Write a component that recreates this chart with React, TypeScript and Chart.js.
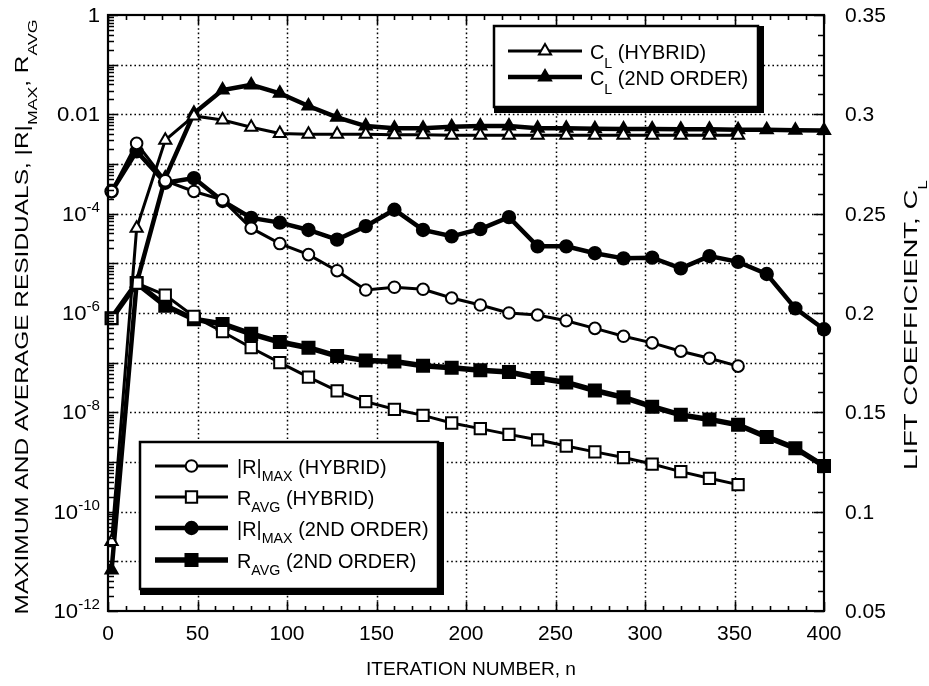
import { useEffect, useRef } from 'react';
import { Chart, registerables } from 'chart.js';

Chart.register(...registerables);

// ---------------- data ----------------
const iterations = [2, 16, 32, 48, 64, 80, 96, 112, 128, 144, 160, 176, 192, 208, 224, 240, 256, 272, 288, 304, 320, 336, 352, 368, 384, 400];

const rmaxHybrid = [2.8e-4, 2.6e-3, 4.6e-4, 2.8e-4, 1.9e-4, 5.1e-5, 2.5e-5, 1.5e-5, 7.1e-6, 2.9e-6, 3.3e-6, 3.0e-6, 2.0e-6, 1.45e-6, 1.0e-6, 9.1e-7, 7.0e-7, 4.9e-7, 3.4e-7, 2.5e-7, 1.7e-7, 1.23e-7, 8.5e-8];
const ravgHybrid = [7.8e-7, 4.0e-6, 2.3e-6, 8.5e-7, 4.2e-7, 2.0e-7, 1.0e-7, 5.1e-8, 2.7e-8, 1.64e-8, 1.15e-8, 8.7e-9, 6.1e-9, 4.7e-9, 3.6e-9, 2.8e-9, 2.1e-9, 1.6e-9, 1.23e-9, 9.1e-10, 6.4e-10, 4.7e-10, 3.5e-10];
const rmax2nd = [2.8e-4, 1.8e-3, 4.2e-4, 5.2e-4, 1.8e-4, 8.2e-5, 6.6e-5, 4.7e-5, 3.0e-5, 5.6e-5, 1.2e-4, 4.7e-5, 3.5e-5, 4.9e-5, 8.5e-5, 2.2e-5, 2.2e-5, 1.6e-5, 1.26e-5, 1.3e-5, 7.9e-6, 1.4e-5, 1.07e-5, 6.1e-6, 1.24e-6, 4.7e-7];
const ravg2nd = [7.8e-7, 4.0e-6, 1.4e-6, 7.5e-7, 6.0e-7, 3.8e-7, 2.6e-7, 2.0e-7, 1.36e-7, 1.1e-7, 1.05e-7, 8.7e-8, 7.9e-8, 7.0e-8, 6.5e-8, 4.9e-8, 4.0e-8, 2.75e-8, 2.0e-8, 1.3e-8, 8.9e-9, 7.2e-9, 5.6e-9, 3.2e-9, 1.9e-9, 8.3e-10];
const clHybrid = [0.085, 0.2426, 0.287, 0.2992, 0.2971, 0.2935, 0.2904, 0.29, 0.29, 0.29, 0.2897, 0.2897, 0.2895, 0.2895, 0.2895, 0.2895, 0.2895, 0.2895, 0.2895, 0.2895, 0.2895, 0.2895, 0.2895];
const cl2nd = [0.0706, 0.215, 0.268, 0.3005, 0.3122, 0.3148, 0.3106, 0.3042, 0.2985, 0.2941, 0.293, 0.293, 0.2938, 0.2941, 0.2941, 0.293, 0.293, 0.2928, 0.2926, 0.2926, 0.2925, 0.2925, 0.2922, 0.2922, 0.292, 0.2918];

const xTickValues = [0, 50, 100, 150, 200, 250, 300, 350, 400];
const xGridValues = [50, 100, 150, 200, 250, 300, 350];
const leftTickValues = [1, 1e-2, 1e-4, 1e-6, 1e-8, 1e-10, 1e-12];
const leftTickBase = ['1', '0.01', '10', '10', '10', '10', '10'];
const leftTickExp = ['', '', '-4', '-6', '-8', '-10', '-12'];
const rightTickValues = [0.05, 0.1, 0.15, 0.2, 0.25, 0.3, 0.35];
const rightTickLabels = ['0.05', '0.1', '0.15', '0.2', '0.25', '0.3', '0.35'];

// ---------------- helpers ----------------
const FAMILY = '"Liberation Sans", Arial, Helvetica, sans-serif';

type Part = { t: string; sub?: boolean; sup?: boolean };
type RichOpts = {
  size: number;
  small?: number;
  subDy?: number;
  supDy?: number;
  align?: 'left' | 'right' | 'center';
  sx?: number;
  target?: number;
  rotate?: boolean;
};

function partsWidth(ctx: CanvasRenderingContext2D, parts: Part[], size: number, small: number) {
  let w = 0;
  for (const p of parts) {
    ctx.font = `${p.sub || p.sup ? small : size}px ${FAMILY}`;
    w += ctx.measureText(p.t).width;
  }
  return w;
}

function drawRich(ctx: CanvasRenderingContext2D, parts: Part[], x: number, y: number, o: RichOpts) {
  const small = o.small ?? Math.round(o.size * 0.7);
  const W = partsWidth(ctx, parts, o.size, small);
  let sx = o.sx ?? 1;
  if (o.target) sx = o.target / W;
  ctx.save();
  ctx.translate(x, y);
  if (o.rotate) ctx.rotate(-Math.PI / 2);
  ctx.scale(sx, 1);
  ctx.fillStyle = '#000';
  ctx.textBaseline = 'alphabetic';
  ctx.textAlign = 'left';
  const align = o.align ?? 'left';
  let cx = align === 'left' ? 0 : align === 'right' ? -W : -W / 2;
  for (const p of parts) {
    const sz = p.sub || p.sup ? small : o.size;
    ctx.font = `${sz}px ${FAMILY}`;
    const dy = p.sub ? o.subDy ?? 7 : p.sup ? o.supDy ?? -9 : 0;
    ctx.fillText(p.t, cx, dy);
    cx += ctx.measureText(p.t).width;
  }
  ctx.restore();
}

function drawMarker(ctx: CanvasRenderingContext2D, style: string, x: number, y: number, r: number, filled: boolean) {
  ctx.beginPath();
  if (style === 'circle') {
    ctx.arc(x, y, r, 0, Math.PI * 2);
  } else if (style === 'rect') {
    const s = r * Math.SQRT1_2;
    ctx.rect(x - s, y - s, 2 * s, 2 * s);
  } else {
    for (let i = 0; i < 3; i++) {
      const a = (i * 2 * Math.PI) / 3;
      const px = x + Math.sin(a) * r;
      const py = y - Math.cos(a) * r;
      if (i === 0) ctx.moveTo(px, py);
      else ctx.lineTo(px, py);
    }
    ctx.closePath();
  }
  ctx.fillStyle = filled ? '#000' : '#fff';
  ctx.fill();
  ctx.lineWidth = 2;
  ctx.strokeStyle = '#000';
  ctx.stroke();
}

type LegendItem = { parts: Part[]; style: string; filled: boolean; r: number; lw: number };

function drawLegend(
  ctx: CanvasRenderingContext2D,
  box: { x: number; y: number; w: number; h: number },
  items: LegendItem[],
  rows: number[],
  lineX0: number,
  lineX1: number,
  textX: number,
  subDy: number
) {
  ctx.save();
  const sh = 6;
  ctx.fillStyle = '#000';
  ctx.fillRect(box.x, box.y, box.w + sh, box.h + sh);
  ctx.fillStyle = '#fff';
  ctx.fillRect(box.x, box.y, box.w, box.h);
  ctx.strokeStyle = '#000';
  ctx.lineWidth = 2.5;
  ctx.setLineDash([]);
  ctx.strokeRect(box.x, box.y, box.w, box.h);
  items.forEach((it, i) => {
    const y = rows[i];
    ctx.beginPath();
    ctx.lineWidth = it.lw;
    ctx.moveTo(lineX0, y);
    ctx.lineTo(lineX1, y);
    ctx.stroke();
    drawMarker(ctx, it.style, (lineX0 + lineX1) / 2, y, it.r, it.filled);
    drawRich(ctx, it.parts, textX, y + 7.5, { size: 19.5, small: 14, subDy, sx: 1.02 });
  });
  ctx.restore();
}

const decorPlugin = {
  id: 'decor',
  beforeDatasetsDraw(chart: any) {
    const { ctx, chartArea: a, scales } = chart;
    const xs = scales.x;
    const yl = scales.yL;
    ctx.save();
    ctx.strokeStyle = '#000';
    ctx.lineWidth = 1.5;
    ctx.setLineDash([1.6, 2.8]);
    ctx.beginPath();
    for (const v of xGridValues) {
      const px = Math.round(xs.getPixelForValue(v)) + 0.5;
      ctx.moveTo(px, a.top);
      ctx.lineTo(px, a.bottom);
    }
    for (let e = -1; e >= -11; e--) {
      const py = Math.round(yl.getPixelForValue(Math.pow(10, e))) + 0.5;
      ctx.moveTo(a.left, py);
      ctx.lineTo(a.right, py);
    }
    ctx.stroke();
    ctx.restore();
  },
  afterDatasetsDraw(chart: any) {
    const { ctx, chartArea: a, scales } = chart;
    const xs = scales.x;
    const yl = scales.yL;
    const yr = scales.yR;
    ctx.save();
    ctx.setLineDash([]);
    ctx.strokeStyle = '#000';
    // ticks
    ctx.lineWidth = 1.6;
    ctx.beginPath();
    for (let v = 0; v <= 400; v += 10) {
      const px = Math.round(xs.getPixelForValue(v)) + 0.5;
      const len = v % 50 === 0 ? 9 : 5;
      ctx.moveTo(px, a.bottom);
      ctx.lineTo(px, a.bottom - len);
      ctx.moveTo(px, a.top);
      ctx.lineTo(px, a.top + len);
    }
    for (let e = -12; e <= 0; e++) {
      const base = Math.pow(10, e);
      const py0 = Math.round(yl.getPixelForValue(base)) + 0.5;
      ctx.moveTo(a.left, py0);
      ctx.lineTo(a.left + 10, py0);
      if (e < 0) {
        for (let m = 2; m <= 9; m++) {
          const py = Math.round(yl.getPixelForValue(m * base)) + 0.5;
          ctx.moveTo(a.left, py);
          ctx.lineTo(a.left + 6, py);
        }
      }
    }
    for (let i = 5; i <= 35; i++) {
      const py = Math.round(yr.getPixelForValue(i / 100)) + 0.5;
      const len = i % 5 === 0 ? 10 : 6;
      ctx.moveTo(a.right, py);
      ctx.lineTo(a.right - len, py);
    }
    ctx.stroke();
    // frame
    ctx.lineWidth = 2.2;
    ctx.strokeRect(a.left, a.top, a.right - a.left, a.bottom - a.top);
    ctx.restore();

    // tick labels
    xTickValues.forEach((v) => {
      drawRich(ctx, [{ t: String(v) }], xs.getPixelForValue(v), 640, { size: 20, align: 'center', sx: 1.05 });
    });
    rightTickValues.forEach((v, i) => {
      drawRich(ctx, [{ t: rightTickLabels[i] }], 845, yr.getPixelForValue(v) + 7, { size: 20, align: 'left', sx: 1.05 });
    });
    leftTickValues.forEach((v, i) => {
      const parts: Part[] = [{ t: leftTickBase[i] }];
      if (leftTickExp[i]) parts.push({ t: leftTickExp[i], sup: true });
      drawRich(ctx, parts, 100, yl.getPixelForValue(v) + 7, { size: 20.5, small: 14, supDy: -9, align: 'right', sx: 1.08 });
    });

    // axis titles
    drawRich(ctx, [{ t: 'ITERATION NUMBER, n' }], 471, 675, { size: 19, align: 'center', target: 210 });
    drawRich(
      ctx,
      [{ t: 'MAXIMUM AND AVERAGE RESIDUALS, |R|' }, { t: 'MAX', sub: true }, { t: ', R' }, { t: 'AVG', sub: true }],
      28,
      317,
      { size: 18, small: 13, subDy: 9, align: 'center', rotate: true, target: 595 }
    );
    drawRich(ctx, [{ t: 'LIFT COEFFICIENT, C' }, { t: 'L', sub: true }], 917, 325, {
      size: 19,
      small: 12,
      subDy: 10,
      align: 'center',
      rotate: true,
      target: 290,
    });

    // legends
    drawLegend(
      ctx,
      { x: 494, y: 26, w: 264, h: 81 },
      [
        { parts: [{ t: 'C' }, { t: 'L', sub: true }, { t: ' (HYBRID)' }], style: 'triangle', filled: false, r: 7, lw: 3 },
        { parts: [{ t: 'C' }, { t: 'L', sub: true }, { t: ' (2ND ORDER)' }], style: 'triangle', filled: true, r: 7, lw: 4.5 },
      ],
      [51, 77],
      508,
      582,
      590,
      9
    );
    drawLegend(
      ctx,
      { x: 140, y: 442, w: 298, h: 147 },
      [
        { parts: [{ t: '|R|' }, { t: 'MAX', sub: true }, { t: ' (HYBRID)' }], style: 'circle', filled: false, r: 5.8, lw: 3 },
        { parts: [{ t: 'R' }, { t: 'AVG', sub: true }, { t: ' (HYBRID)' }], style: 'rect', filled: false, r: 8, lw: 3 },
        { parts: [{ t: '|R|' }, { t: 'MAX', sub: true }, { t: ' (2ND ORDER)' }], style: 'circle', filled: true, r: 6.2, lw: 4.5 },
        { parts: [{ t: 'R' }, { t: 'AVG', sub: true }, { t: ' (2ND ORDER)' }], style: 'rect', filled: true, r: 8.5, lw: 5.5 },
      ],
      [466, 497, 528, 560],
      155,
      228,
      237,
      7
    );
  },
};

function xy(values: number[]) {
  return values.map((v, i) => ({ x: iterations[i], y: v }));
}

function series(data: number[], axis: string, style: string, filled: boolean, r: number, lw: number) {
  return {
    data: xy(data),
    yAxisID: axis,
    borderColor: '#000',
    borderWidth: lw,
    tension: 0,
    pointStyle: style,
    pointRadius: r,
    pointBackgroundColor: filled ? '#000' : '#fff',
    pointBorderColor: '#000',
    pointBorderWidth: 2,
    clip: false as const,
  };
}

export default function App() {
  const ref = useRef<HTMLCanvasElement>(null);
  useEffect(() => {
    if (!ref.current) return;
    const chart = new Chart(ref.current, {
      type: 'line',
      data: {
        datasets: [
          series(clHybrid, 'yR', 'triangle', false, 7, 3),
          series(rmaxHybrid, 'yL', 'circle', false, 5.8, 3),
          series(ravgHybrid, 'yL', 'rect', false, 8, 3),
          series(cl2nd, 'yR', 'triangle', true, 7, 4.5),
          series(rmax2nd, 'yL', 'circle', true, 6.2, 4.5),
          series(ravg2nd, 'yL', 'rect', true, 8.5, 5.5),
        ] as any,
      },
      options: {
        responsive: false,
        animation: false,
        events: [],
        layout: { padding: { top: 15, left: 0, right: 0, bottom: 0 } },
        plugins: { legend: { display: false }, tooltip: { enabled: false } },
        scales: {
          x: {
            type: 'linear',
            min: 0,
            max: 400,
            grid: { display: false },
            border: { display: false },
            ticks: { display: false },
            afterFit: (s: any) => {
              s.height = 75;
            },
          },
          yL: {
            type: 'logarithmic',
            position: 'left',
            min: 1e-12,
            max: 1,
            grid: { display: false },
            border: { display: false },
            ticks: { display: false },
            afterFit: (s: any) => {
              s.width = 108;
            },
          },
          yR: {
            type: 'linear',
            position: 'right',
            min: 0.05,
            max: 0.35,
            grid: { display: false },
            border: { display: false },
            ticks: { display: false },
            afterFit: (s: any) => {
              s.width = 105;
            },
          },
        },
      } as any,
      plugins: [decorPlugin],
    });
    return () => chart.destroy();
  }, []);
  return (
    <div style={{ position: 'absolute', left: 0, top: 0, width: 929, height: 686, background: '#fff' }}>
      <canvas ref={ref} width={929} height={686} style={{ display: 'block', width: 929, height: 686 }} />
    </div>
  );
}
